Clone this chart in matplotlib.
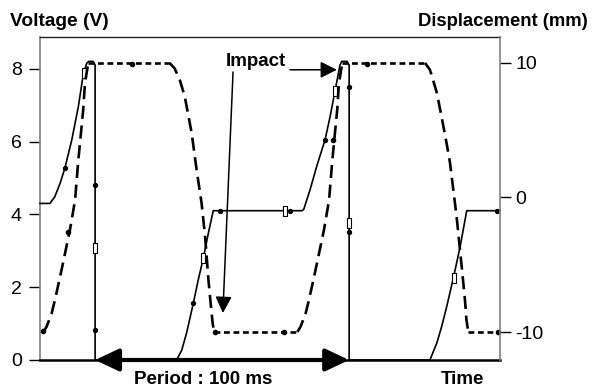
import numpy as np
import matplotlib
matplotlib.use("Agg")
import matplotlib.pyplot as plt
from matplotlib.path import Path

plt.rcParams['font.family'] = ['Liberation Sans', 'DejaVu Sans']
plt.rcParams['axes.unicode_minus'] = False

# time in ms, voltage in V (solid trace)
volt_t = [0, 3.9, 5.8, 7.9, 9.8, 12.5, 15.1, 17.0, 18.4, 19.2, 20.9, 21.7, 21.7,
          53.8, 55.8, 57.7, 60.4, 62.3, 64.3, 66.3, 68.2,
          103.1, 103.8, 106.3, 108.9, 112.2, 114.2, 116.1, 118.1, 118.8, 120.9, 121.7, 121.7,
          153.5, 156.2, 158.1, 160.1, 162.7, 165.4, 168.0, 181.1]
volt_v = [4.3, 4.3, 4.48, 4.85, 5.27, 6.04, 6.96, 7.83, 8.15, 8.2, 8.2, 8.1, 0,
          0, 0.27, 0.74, 1.57, 2.2, 2.8, 3.49, 4.1,
          4.1, 4.13, 4.67, 5.31, 6.04, 6.68, 7.37, 8.1, 8.2, 8.2, 8.1, 0,
          0, 0.46, 0.91, 1.46, 2.24, 3.11, 4.1, 4.1]

# displacement in mm (dashed trace)
disp_t = [1.3, 2.6, 4.6, 5.9, 7.9, 9.8, 11.8, 13.8, 15.1, 17.0, 17.7, 19.0,
          51.0, 53.0, 55.1, 57.0, 59.7, 61.7, 63.6, 65.0, 66.3, 67.2, 68.0, 68.6,
          101.3, 102.6, 104.6, 105.9, 107.9, 109.8, 111.8, 113.8, 115.1, 117.0, 117.7, 119.0,
          151.6, 153.5, 154.8, 156.2, 158.1, 160.1, 161.4, 162.7, 164.0, 166.0, 167.3, 167.9, 168.6,
          181.1]
disp_mm = [-10, -9.6, -8.6, -7.6, -5.9, -4.2, -2.4, -0.2, 2.8, 6.5, 8.5, 10,
           10, 9.6, 8.7, 7.5, 4.8, 2.0, -0.4, -2.9, -6.1, -7.9, -9.4, -10,
           -10, -9.6, -8.6, -7.6, -5.9, -4.2, -2.4, -0.2, 2.8, 6.5, 8.5, 10,
           10, 9.5, 8.7, 7.8, 6.0, 4.0, 2.6, 0.6, -1.4, -5.1, -7.6, -9.1, -10,
           -10]

# sample markers
volt_box_t = [17.3, 21.7, 64.2, 96.5, 116.1, 121.7, 163.0]
volt_box_v = [7.88, 3.08, 2.8, 4.1, 7.39, 3.76, 2.25]
volt_dot_t = [9.8, 21.7, 21.7, 60.4, 70.9, 98.4, 112.2, 121.7, 121.7, 179.9]
volt_dot_v = [5.27, 4.81, 0.82, 1.57, 4.1, 4.1, 6.04, 7.5, 3.52, 4.1]
disp_dot_t = [1.2, 11.0, 36.2, 68.9, 96.1, 115.4, 128.7, 180.3]
disp_dot_mm = [-9.9, -2.6, 9.9, -10, -10, 4.3, 9.9, -10]

volt_ticks = [0, 2, 4, 6, 8]
disp_ticks = [-10, 0, 10]

box = Path([(-0.45, -1), (0.45, -1), (0.45, 1), (-0.45, 1), (-0.45, -1)],
           [Path.MOVETO, Path.LINETO, Path.LINETO, Path.LINETO, Path.CLOSEPOLY])

fig = plt.figure(figsize=(5.94, 3.90), dpi=100)
ax = fig.add_axes([40 / 594, 30 / 390, 460 / 594, 323 / 390])
ax2 = ax.twinx()

ax.set_xlim(0, 181.1)
ax.set_ylim(0, 8.87)
ax2.set_ylim(-12.08, 11.93)

# voltage
ax.plot(volt_t, volt_v, color='black', lw=1.2, zorder=3, clip_on=False)
ax.plot(volt_dot_t, volt_dot_v, 'o', color='black', ms=2.8, zorder=4)
ax.plot(volt_box_t, volt_box_v, linestyle='none', marker=box, ms=6.5,
        mfc='white', mec='black', mew=0.8, zorder=5)

# displacement: flat parts drawn with short dashes, slopes with longer ones
seg_start = 0
for i in range(1, len(disp_t) + 1):
    if i == len(disp_t) or (i > seg_start + 1 and
                             (disp_mm[i] == disp_mm[i - 1]) != (disp_mm[i - 1] == disp_mm[i - 2])):
        xs = disp_t[seg_start:i]
        ys = disp_mm[seg_start:i]
        flat = ys[0] == ys[-1] and len(xs) == 2
        ax2.plot(xs, ys, color='black', lw=1.9,
                 dashes=(2.2, 1.4) if flat else (5, 2.5), solid_capstyle='butt',
                 dash_capstyle='butt')
        seg_start = i - 1
ax2.plot(disp_dot_t, disp_dot_mm, 'o', color='black', ms=3)

# spines and ticks
for s in ['left', 'top', 'bottom']:
    ax2.spines[s].set_visible(False)
ax.spines['right'].set_visible(False)
ax.spines['left'].set_color('#808080')
ax.spines['left'].set_linewidth(1.2)
ax2.spines['right'].set_color('#808080')
ax2.spines['right'].set_linewidth(1.2)
ax.spines['top'].set_color('#222222')
ax.spines['top'].set_linewidth(1.0)
ax.spines['bottom'].set_linewidth(1.8)

ax.set_xticks([])
ax.set_yticks(volt_ticks)
ax.tick_params(axis='y', direction='out', length=8, width=1, labelsize=14, pad=5)
ax2.set_yticks(disp_ticks)
ax2.tick_params(axis='y', direction='out', length=8, width=1, labelsize=14, pad=3)

# annotations
arrow_thin = dict(arrowstyle='-|>,head_length=0.5,head_width=0.25', mutation_scale=20,
                  color='black', lw=1.1, shrinkA=0, shrinkB=0)
ax.text(85.0, 8.21, 'Impact', ha='center', va='center', fontsize=13.5, fontweight='bold')
ax.annotate('', xy=(116.9, 7.97), xytext=(98.4, 7.97), arrowprops=arrow_thin)
ax.annotate('', xy=(72.0, 1.29), xytext=(76.0, 7.91), arrowprops=arrow_thin)
ax.annotate('', xy=(121.7, 0), xytext=(21.7, 0), annotation_clip=False,
            arrowprops=dict(arrowstyle='<|-|>,head_length=0.72,head_width=0.34',
                            mutation_scale=20, color='black', lw=3,
                            shrinkA=0, shrinkB=0, clip_on=False))

fig.text(10 / 594, 1 - 22 / 390, 'Voltage (V)', ha='left', va='center',
         fontsize=13.8, fontweight='bold')
fig.text(588 / 594, 1 - 22 / 390, 'Displacement (mm)', ha='right', va='center',
         fontsize=13.3, fontweight='bold')
fig.text(203 / 594, 1 - 380 / 390, 'Period : 100 ms', ha='center', va='center',
         fontsize=13.5, fontweight='bold')
fig.text(462 / 594, 1 - 380 / 390, 'Time', ha='center', va='center',
         fontsize=13.5, fontweight='bold')

fig.savefig('out.png', dpi=100)
